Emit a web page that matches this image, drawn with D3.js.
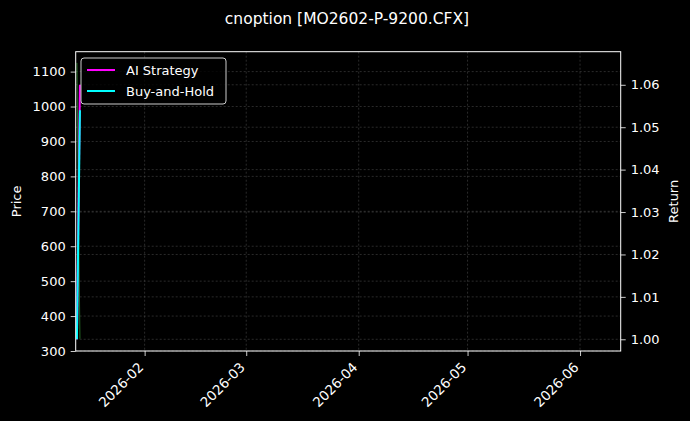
<!DOCTYPE html>
<html>
<head>
<meta charset="utf-8">
<script src="https://cdn.jsdelivr.net/npm/d3@7"></script>
<style>
  body { margin: 0; background: #000; }
  svg { display: block; font-family: "DejaVu Sans", sans-serif; }
</style>
</head>
<body>
<script>
// data
var dates = ['2026-01-13T08:00', '2026-01-14T04:00'];
var price = [1125, 335];
var aiStrategy = [1.000, 1.060];
var buyHold = [1.000, 1.054];
var priceTicks = [300, 400, 500, 600, 700, 800, 900, 1000, 1100];
var returnTicks = [1.00, 1.01, 1.02, 1.03, 1.04, 1.05, 1.06];
var monthTicks = ['2026-02-01', '2026-03-01', '2026-04-01', '2026-05-01', '2026-06-01'];

var width = 690, height = 421;
var pLeft = 75.7, pRight = 620.7, pTop = 51.7, pBottom = 351;

var parse = d3.isoParse;
var x = d3.scaleTime()
  .domain([parse('2026-01-13T00:00'), parse('2026-06-12T05:00')])
  .range([pLeft, pRight]);
var yPrice = d3.scaleLinear().domain([300, 1157]).range([pBottom, pTop]);
var yRet = d3.scaleLinear().domain([0.99724, 1.0678]).range([pBottom, pTop]);

var svg = d3.select('body').append('svg')
  .attr('width', width)
  .attr('height', height);

svg.append('rect').attr('width', width).attr('height', height).attr('fill', '#000');

// grid
var grid = svg.append('g')
  .attr('stroke', '#555')
  .attr('stroke-width', 0.5)
  .attr('stroke-dasharray', '2,2');
monthTicks.forEach(function(d){
  grid.append('line')
    .attr('x1', x(parse(d))).attr('x2', x(parse(d)))
    .attr('y1', pTop).attr('y2', pBottom);
});
priceTicks.forEach(function(v){
  grid.append('line')
    .attr('x1', pLeft).attr('x2', pRight)
    .attr('y1', yPrice(v)).attr('y2', yPrice(v));
});
returnTicks.forEach(function(v){
  grid.append('line')
    .attr('x1', pLeft).attr('x2', pRight)
    .attr('y1', yRet(v)).attr('y2', yRet(v));
});

svg.append('clipPath').attr('id', 'clip')
  .append('rect').attr('x', pLeft).attr('y', pTop)
  .attr('width', pRight - pLeft).attr('height', pBottom - pTop);

var plot = svg.append('g').attr('clip-path', 'url(#clip)');

var pts = dates.map(function(d, i){ return i; });

var priceLine = d3.line()
  .x(function(i){ return x(parse(dates[i])); })
  .y(function(i){ return yPrice(price[i]); });
plot.append('path')
  .attr('d', priceLine(pts))
  .attr('fill', 'none')
  .attr('stroke', '#2e8b2e')
  .attr('stroke-opacity', 0.8)
  .attr('stroke-width', 1);

function retLine(arr){
  return d3.line()
    .x(function(i){ return x(parse(dates[i])); })
    .y(function(i){ return yRet(arr[i]); })(pts);
}
plot.append('path')
  .attr('d', retLine(aiStrategy))
  .attr('fill', 'none')
  .attr('stroke', '#ff00ff')
  .attr('stroke-width', 2);
plot.append('path')
  .attr('d', retLine(buyHold))
  .attr('fill', 'none')
  .attr('stroke', '#00ffff')
  .attr('stroke-width', 2);

// axes
var fontSize = 13;
function styleAxis(g){
  g.selectAll('.domain').remove();
  g.selectAll('.tick line').attr('stroke', '#fff').attr('stroke-width', 0.8);
  g.selectAll('.tick text').attr('fill', '#fff').attr('font-size', fontSize)
    .attr('font-family', '"DejaVu Sans", sans-serif');
}

svg.append('g')
  .attr('transform', 'translate(' + pLeft + ',0)')
  .call(d3.axisLeft(yPrice).tickValues(priceTicks).tickSize(5).tickPadding(5)
    .tickFormat(d3.format('d')))
  .call(styleAxis);

svg.append('g')
  .attr('transform', 'translate(' + pRight + ',0)')
  .call(d3.axisRight(yRet).tickValues(returnTicks).tickSize(5).tickPadding(5)
    .tickFormat(d3.format('.2f')))
  .call(styleAxis);

var xAxis = svg.append('g')
  .attr('transform', 'translate(0,' + pBottom + ')')
  .call(d3.axisBottom(x).tickValues(monthTicks.map(parse)).tickSize(5).tickPadding(5)
    .tickFormat(d3.timeFormat('%Y-%m')))
  .call(styleAxis);
xAxis.selectAll('.tick text')
  .attr('font-size', 13.5)
  .attr('text-anchor', 'end')
  .attr('x', 0).attr('y', 0).attr('dy', '0.75em')
  .attr('transform', 'translate(-8,10) rotate(-45)');

// frame
svg.append('rect')
  .attr('x', pLeft).attr('y', pTop)
  .attr('width', pRight - pLeft).attr('height', pBottom - pTop)
  .attr('fill', 'none').attr('stroke', '#fff').attr('stroke-width', 1);

// labels
svg.append('text')
  .attr('x', 347).attr('y', 24)
  .attr('text-anchor', 'middle')
  .attr('fill', '#fff').attr('font-size', 15.5)
  .text('cnoption [MO2602-P-9200.CFX]');

svg.append('text')
  .attr('transform', 'translate(21,' + ((pTop + pBottom) / 2) + ') rotate(-90)')
  .attr('text-anchor', 'middle')
  .attr('fill', '#fff').attr('font-size', fontSize)
  .text('Price');

svg.append('text')
  .attr('transform', 'translate(678,' + ((pTop + pBottom) / 2) + ') rotate(-90)')
  .attr('text-anchor', 'middle')
  .attr('fill', '#fff').attr('font-size', fontSize)
  .text('Return');

// legend
var legend = svg.append('g').attr('transform', 'translate(81,58)');
legend.append('rect')
  .attr('width', 145).attr('height', 46)
  .attr('rx', 3)
  .attr('fill', '#000').attr('fill-opacity', 0.8)
  .attr('stroke', '#ccc').attr('stroke-width', 1);
var items = [['AI Strategy', '#ff00ff'], ['Buy-and-Hold', '#00ffff']];
items.forEach(function(it, i){
  var yy = 12 + i * 21;
  legend.append('line')
    .attr('x1', 6).attr('x2', 34).attr('y1', yy).attr('y2', yy)
    .attr('stroke', it[1]).attr('stroke-width', 2);
  legend.append('text')
    .attr('x', 45).attr('y', yy).attr('dy', '0.35em')
    .attr('fill', '#fff').attr('font-size', fontSize)
    .text(it[0]);
});
</script>
</body>
</html>
